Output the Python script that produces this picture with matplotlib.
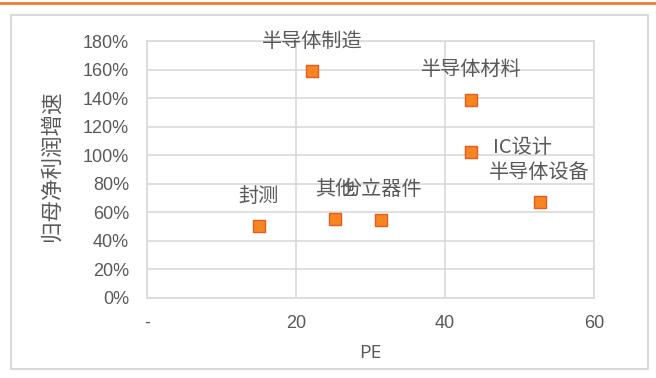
import matplotlib
matplotlib.use('Agg')
import matplotlib.pyplot as plt
from matplotlib.patches import Rectangle
from matplotlib.lines import Line2D
from matplotlib.ticker import FuncFormatter

# 数据：行业、PE、归母净利润增速
names = ['半导体制造', '半导体材料', 'IC设计', '半导体设备', '封测', '其他', '分立器件']
pe = [22.2, 43.5, 43.5, 52.7, 15.0, 25.3, 31.4]
growth = [1.59, 1.39, 1.024, 0.672, 0.502, 0.555, 0.548]
xticks = [0, 20, 40, 60]
yticks = [i / 100 for i in range(0, 181, 20)]

cjk = ['Noto Sans CJK SC', 'DejaVu Sans']
grey = '#595959'

fig = plt.figure(figsize=(6.56, 3.78), dpi=100)
ax = fig.add_axes([147 / 656, 80 / 378, 447 / 656, 257 / 378])

# 外框和顶部橙线
fig.patches.append(Rectangle((11 / 656, 9 / 378), 637 / 656, 354 / 378,
                             transform=fig.transFigure, fill=False,
                             edgecolor='#D9D9D9', lw=1.5))
fig.lines.append(Line2D([0, 1], [1 - 2.5 / 378, 1 - 2.5 / 378],
                        transform=fig.transFigure, color='#ED7D31', lw=2))

ax.scatter(pe, growth, marker='s', s=72, c='#F7861E', edgecolors='#E85A24',
           linewidths=1.0, zorder=3)

# 数据标签（其他 与 分立器件 在原图中就重叠）
for n, x, y in zip(names, pe, growth):
    if n == 'IC设计':
        ax.annotate(n, (x, y), xytext=(16, 3), textcoords='offset points',
                    ha='left', va='center', fontsize=14.5, color=grey, family=cjk)
    else:
        ax.annotate(n, (x, y), xytext=(0, 21.5), textcoords='offset points',
                    ha='center', va='center', fontsize=14.5, color=grey, family=cjk)

ax.set_xlim(0, 60)
ax.set_ylim(0, 1.8)
ax.set_xticks(xticks)
ax.set_yticks(yticks)
ax.xaxis.set_major_formatter(FuncFormatter(lambda v, p: '-' if v == 0 else '%d' % v))
ax.yaxis.set_major_formatter(FuncFormatter(lambda v, p: '%d%%' % round(v * 100)))
ax.grid(True, color='#D9D9D9', lw=1.2)
ax.set_axisbelow(True)
for s in ax.spines.values():
    s.set_color('#D9D9D9')
    s.set_linewidth(1.2)
ax.tick_params(length=0, labelsize=13, labelcolor=grey)
ax.tick_params(axis='y', pad=13)
ax.tick_params(axis='x', pad=12)
for lab in ax.get_xticklabels() + ax.get_yticklabels():
    lab.set_family('Liberation Sans')

ax.set_ylabel('归母净利润增速', fontsize=15.5, color=grey, family=cjk)
ax.yaxis.set_label_coords(-0.188, 0.514)
ax.set_xlabel('PE', fontsize=14, color=grey, family=['Open Sans', 'DejaVu Sans'])
ax.xaxis.set_label_coords(0.5, -0.178)

fig.savefig('out.png', dpi=100)
